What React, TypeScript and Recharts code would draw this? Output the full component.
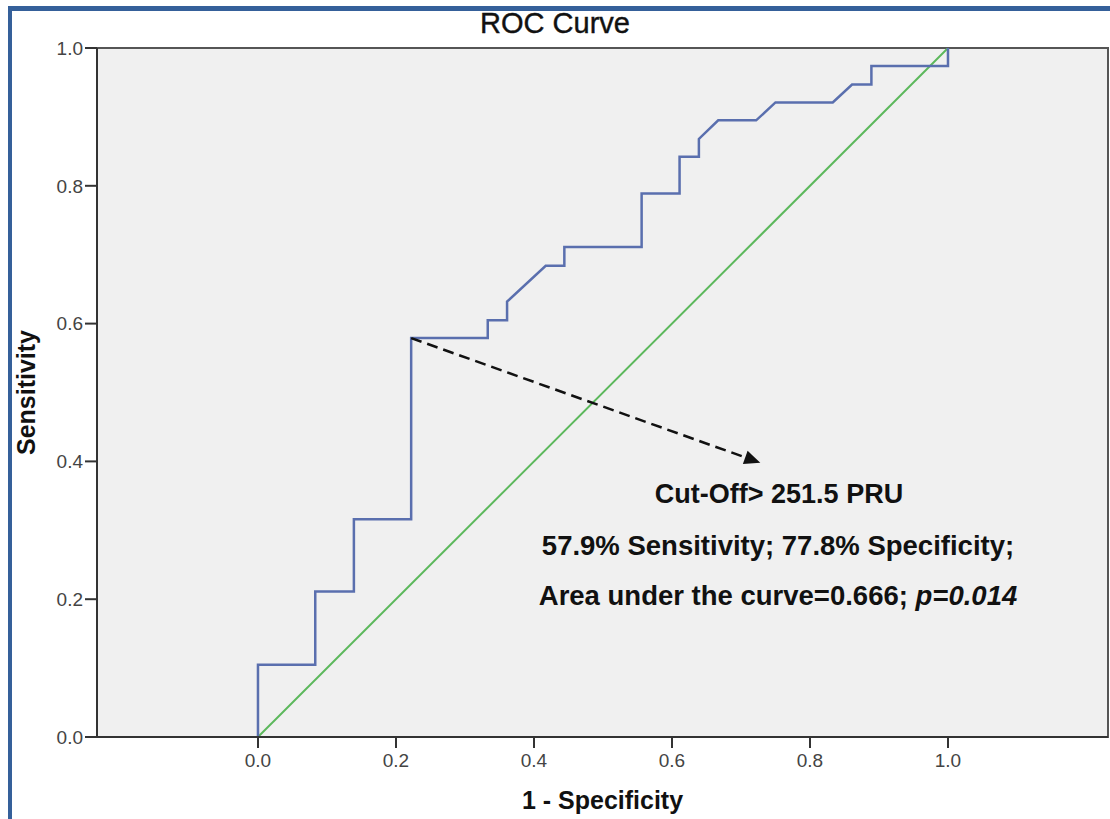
import React from 'react';
import {
  ComposedChart, Line, XAxis, YAxis, CartesianGrid, ReferenceArea, ReferenceLine,
} from 'recharts';

// ROC curve points (1 - specificity, sensitivity)
const fprValues = [
  0, 0, 0.083, 0.083, 0.139, 0.139, 0.222, 0.222, 0.333, 0.333,
  0.361, 0.361, 0.417, 0.444, 0.444, 0.556, 0.556, 0.611, 0.611, 0.639,
  0.639, 0.667, 0.722, 0.75, 0.833, 0.861, 0.889, 0.889, 1.0, 1.0,
];
const tprValues = [
  0, 0.105, 0.105, 0.211, 0.211, 0.316, 0.316, 0.579, 0.579, 0.605,
  0.605, 0.632, 0.684, 0.684, 0.711, 0.711, 0.789, 0.789, 0.842, 0.842,
  0.868, 0.895, 0.895, 0.921, 0.921, 0.947, 0.947, 0.974, 0.974, 1.0,
];

// chance diagonal
const chanceX = [0, 1];
const chanceY = [0, 1];

// cut-off arrow: from the cut-off point to the annotation
const arrowX = [0.222, 0.728];
const arrowY = [0.579, 0.398];

const xDomain = [-0.2333, 1.2319];
const ticks = [0, 0.2, 0.4, 0.6, 0.8, 1.0];

const annotationLines = [
  'Cut-Off> 251.5 PRU',
  '57.9% Sensitivity; 77.8% Specificity;',
];

const rocData = fprValues.map((x, i) => ({ x, y: tprValues[i] }));
const chanceData = chanceX.map((x, i) => ({ x, y: chanceY[i] }));

const FONT = '"Liberation Sans", Arial, sans-serif';

function DashedArrow(props: any) {
  const { x1, y1, x2, y2 } = props;
  const a = Math.atan2(y2 - y1, x2 - x1);
  const len = 16;
  const half = 7;
  const bx = x2 - len * Math.cos(a);
  const by = y2 - len * Math.sin(a);
  const px = -Math.sin(a) * half;
  const py = Math.cos(a) * half;
  return (
    <g>
      <line x1={x1} y1={y1} x2={bx} y2={by} stroke="#111" strokeWidth={2.5} strokeDasharray="11 6" />
      <polygon points={`${x2},${y2} ${bx + px},${by + py} ${bx - px},${by - py}`} fill="#111" />
    </g>
  );
}

export default function App() {
  return (
    <div style={{ position: 'absolute', left: 0, top: 0, width: 1110, height: 819, background: '#fff' }}>
      <div
        style={{
          position: 'absolute', left: 8, top: 6, width: 1102, height: 813,
          borderTop: '5px solid #35609a', borderLeft: '4px solid #35609a', boxSizing: 'border-box',
        }}
      />
      <div style={{ position: 'absolute', left: 0, top: 0 }}>
        <ComposedChart
          width={1110}
          height={819}
          margin={{ top: 48, right: 2, bottom: 0, left: 0 }}
          style={{ fontFamily: FONT }}
        >
          <CartesianGrid fill="#f0f0f0" horizontal={false} vertical={false} />
          <XAxis
            dataKey="x"
            type="number"
            domain={xDomain}
            ticks={ticks}
            allowDataOverflow
            height={82}
            tickSize={11}
            tickMargin={6}
            tickFormatter={(v: number) => v.toFixed(1)}
            axisLine={{ stroke: '#333', strokeWidth: 2 }}
            tickLine={{ stroke: '#333', strokeWidth: 2 }}
            tick={{ fill: '#444', fontSize: 19, fontFamily: FONT }}
            label={{
              value: '1 - Specificity', position: 'insideBottom', offset: 10,
              style: { fontSize: 25, fontWeight: 'bold', fill: '#111', fontFamily: FONT },
            }}
          />
          <YAxis
            dataKey="y"
            type="number"
            domain={[0, 1]}
            ticks={ticks}
            allowDataOverflow
            width={97}
            tickSize={12}
            tickMargin={2}
            tickFormatter={(v: number) => v.toFixed(1)}
            axisLine={{ stroke: '#333', strokeWidth: 2 }}
            tickLine={{ stroke: '#333', strokeWidth: 2 }}
            tick={{ fill: '#444', fontSize: 19, fontFamily: FONT }}
            label={{
              value: 'Sensitivity', angle: -90, position: 'insideLeft', offset: 26,
              style: { textAnchor: 'middle', fontSize: 25, fontWeight: 'bold', fill: '#111', fontFamily: FONT },
            }}
          />
          <ReferenceArea
            x1={xDomain[0]} x2={xDomain[1]} y1={0} y2={1}
            fill="none" stroke="#555" strokeWidth={2} ifOverflow="visible"
          />
          <Line
            data={chanceData}
            dataKey="y"
            type="linear"
            stroke="#5cb85c"
            strokeWidth={2}
            dot={false}
            isAnimationActive={false}
          />
          <Line
            data={rocData}
            dataKey="y"
            type="linear"
            stroke="#5a6fae"
            strokeWidth={2.5}
            dot={false}
            isAnimationActive={false}
          />
          <ReferenceLine
            segment={[{ x: arrowX[0], y: arrowY[0] }, { x: arrowX[1], y: arrowY[1] }]}
            shape={DashedArrow}
            ifOverflow="visible"
          />
        </ComposedChart>
      </div>
      <svg
        width={1110}
        height={819}
        style={{ position: 'absolute', left: 0, top: 0, pointerEvents: 'none', fontFamily: FONT }}
      >
        <text x={555} y={33} textAnchor="middle" fontSize={29} fill="#111" stroke="#111" strokeWidth={0.4}>
          ROC Curve
        </text>
        <text x={779} y={503} textAnchor="middle" fontSize={27} fontWeight="bold" fill="#111">
          {annotationLines[0]}
        </text>
        <text x={778} y={555} textAnchor="middle" fontSize={27.5} fontWeight="bold" fill="#111">
          {annotationLines[1]}
        </text>
        <text x={778} y={605} textAnchor="middle" fontSize={27.5} fontWeight="bold" fill="#111">
          Area under the curve=0.666; <tspan fontStyle="italic">p=0.014</tspan>
        </text>
      </svg>
    </div>
  );
}
